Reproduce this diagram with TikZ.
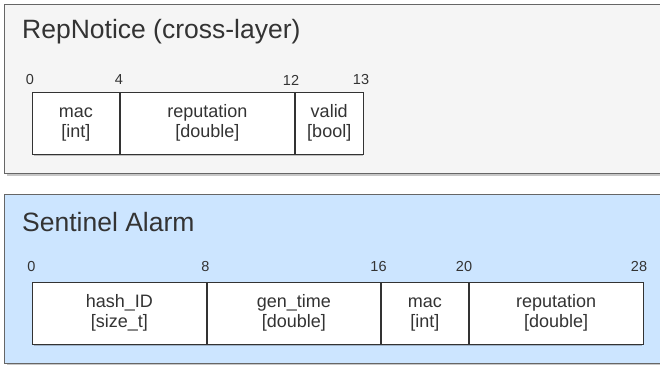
\documentclass[tikz,border=0pt]{standalone}
\usepackage{fontspec}
\setmainfont{Liberation Sans}
\definecolor{panelgray}{HTML}{F5F5F5}
\definecolor{panelblue}{HTML}{CCE5FF}
\definecolor{edgegray}{HTML}{666666}
\definecolor{txt}{HTML}{333333}
\definecolor{boxedge}{HTML}{333333}
\newcommand{\fldtxt}[2]{\strut #1\\\strut{}#2}
\begin{document}
\begin{tikzpicture}[x=1pt,y=-1pt,
  panel/.style={draw=edgegray,line width=1pt},
  shadowbox/.style={fill=black,opacity=0.22,draw=none},
  title/.style={anchor=base west,inner sep=0pt,text=txt,font=\fontsize{26.5}{30}\selectfont},
  num/.style={anchor=center,inner sep=0pt,text=txt,font=\fontsize{14.5}{17}\selectfont},
  field/.style={draw=boxedge,fill=white,line width=0.9pt,inner sep=0pt,text=txt,align=center,
    font=\fontsize{18}{19.5}\selectfont}
]
\useasboundingbox (0,0) rectangle (660,364);
% ---------- top panel ----------
\fill[shadowbox] (6.5,6.5) rectangle (672,175.5);
\filldraw[panel,fill=panelgray] (4,4) rectangle (672,173);
\node[title] (t1) at (22,38.3) {RepNotice (cross-layer)};
\node[num] (a0) at (30,80) {0};
\node[num] (a4) at (119,80) {4};
\node[num] (a12) at (291,80) {12};
\node[num] (a13) at (361,80) {13};
\fill[shadowbox] (34,94) rectangle (363,156.3);
\node[field,minimum width=87pt,minimum height=62.3pt,anchor=north west] (f1) at (32,92) {\fldtxt{mac}{[int]}};
\node[field,minimum width=174pt,minimum height=62.3pt,anchor=north west] (f2) at (f1.north east) {\fldtxt{reputation}{[double]}};
\node[field,minimum width=68pt,minimum height=62.3pt,anchor=north west] (f3) at (f2.north east) {\fldtxt{valid}{[bool]}};
% ---------- bottom panel ----------
\fill[shadowbox] (6.5,196.5) rectangle (672,366);
\filldraw[panel,fill=panelblue] (4,194) rectangle (672,363);
\node[title] (t2) at (22,231) {Sentinel Alarm};
\node[num] (b0) at (31.5,266.7) {0};
\node[num] (b8) at (205.5,266.7) {8};
\node[num] (b16) at (378.5,266.7) {16};
\node[num] (b20) at (464,266.7) {20};
\node[num] (b28) at (639,266.7) {28};
\fill[shadowbox] (34,283.7) rectangle (642,346.3);
\node[field,minimum width=173.7pt,minimum height=62.6pt,anchor=north west] (g1) at (32,281.7) {\fldtxt{hash\_ID}{[size\_t]}};
\node[field,minimum width=173.6pt,minimum height=62.6pt,anchor=north west] (g2) at (g1.north east) {\fldtxt{gen\_time}{[double]}};
\node[field,minimum width=86.7pt,minimum height=62.6pt,anchor=north west] (g3) at (g2.north east) {\fldtxt{mac}{[int]}};
\node[field,minimum width=174pt,minimum height=62.6pt,anchor=north west] (g4) at (g3.north east) {\fldtxt{reputation}{[double]}};
\end{tikzpicture}
\end{document}
